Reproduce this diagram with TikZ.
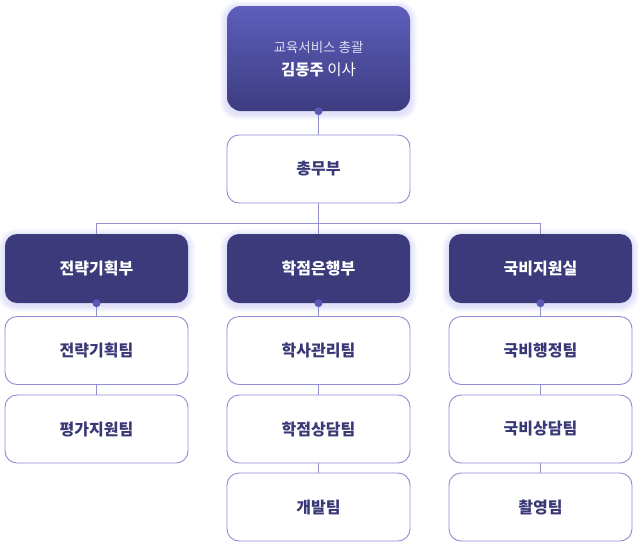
\documentclass[tikz,border=0pt]{standalone}
\usepackage{fontspec}
\newfontfamily\kr{Noto Sans CJK KR}
\usetikzlibrary{backgrounds}
\definecolor{navy}{HTML}{3C3A7A}
\definecolor{topc}{HTML}{5D5EBC}
\definecolor{botc}{HTML}{3D3C80}
\definecolor{edge}{HTML}{8C8DD2}
\definecolor{linec}{HTML}{8F90CC}
\definecolor{dotc}{HTML}{5859B3}
\definecolor{txt}{HTML}{3A3977}
\definecolor{glow}{HTML}{A9AAF0}
\definecolor{subt}{HTML}{DCDCF4}
\newcommand{\glowbox}[1]{%
  \foreach \r in {1,...,7}{%
    \fill[glow,opacity=0.06,rounded corners=12pt+\r pt]
      ([xshift=-\r pt,yshift=\r pt-2pt]#1.north west) rectangle ([xshift=\r pt,yshift=-\r pt-2pt]#1.south east);
  }}
\begin{document}
\begin{tikzpicture}[x=1pt,y=-1pt,
  box/.style={rectangle,rounded corners=12pt,minimum width=183pt,inner sep=0pt,font=\kr\bfseries\fontsize{16}{19}\selectfont},
  whitebox/.style={box,draw=edge,line width=0.9pt,fill=white,text=txt,minimum height=68pt},
  darkbox/.style={box,fill=navy,text=white,minimum height=69pt},
  conn/.style={draw=linec,line width=0.9pt},
  dot/.style={circle,fill=dotc,inner sep=0pt,minimum size=8pt}]
\useasboundingbox (0,0) rectangle (640,550);
% top box
\node[box,minimum height=105pt,rounded corners=14pt,top color=topc,bottom color=botc,text=white] (top) at (318.5,58.5) {};
\node[font=\kr\fontsize{13.5}{16}\selectfont,text=subt] (sub) at (318.5,47) {교육서비스 총괄};
\node[font=\kr\fontsize{15.5}{18}\selectfont,text=white] (name) at (318.5,70) {{\bfseries 김동주} 이사};
% level 1
\node[whitebox] (gen) at (318.5,169) {총무부};
% departments
\node[darkbox] (d1) at (96.5,268.5) {전략기획부};
\node[darkbox] (d2) at (318.5,268.5) {학점은행부};
\node[darkbox] (d3) at (540.5,268.5) {국비지원실};
% teams
\node[whitebox] (t11) at (96.5,350.5) {전략기획팀};
\node[whitebox] (t12) at (96.5,429) {평가지원팀};
\node[whitebox] (t21) at (318.5,350.5) {학사관리팀};
\node[whitebox] (t22) at (318.5,429) {학점상담팀};
\node[whitebox] (t23) at (318.5,507) {개발팀};
\node[whitebox] (t31) at (540.5,350.5) {국비행정팀};
\node[whitebox] (t32) at (540.5,429) {국비상담팀};
\node[whitebox] (t33) at (540.5,507) {촬영팀};
% glows behind dark boxes
\begin{pgfonlayer}{background}
  \glowbox{top}
  \glowbox{d1}
  \glowbox{d2}
  \glowbox{d3}
\end{pgfonlayer}
% connectors
\coordinate (bus) at (318.5,223);
\coordinate (busL) at (96.5,223);
\coordinate (busR) at (540.5,223);
\draw[conn] (top.south) -- (gen.north);
\draw[conn] (gen.south) -- (bus);
\draw[conn] (d1.north) -- (busL) -- (busR) -- (d3.north);
\draw[conn] (bus) -- (d2.north);
\foreach \d/\a/\b in {d1/t11/t12, d2/t21/t22, d3/t31/t32}{
  \draw[conn] (\d.south) -- (\a.north);
  \draw[conn] (\a.south) -- (\b.north);
}
\draw[conn] (t22.south) -- (t23.north);
\draw[conn] (t32.south) -- (t33.north);
\node[dot] (p0) at (top.south) {};
\node[dot] (p1) at (d1.south) {};
\node[dot] (p2) at (d2.south) {};
\node[dot] (p3) at (d3.south) {};
\end{tikzpicture}
\end{document}
